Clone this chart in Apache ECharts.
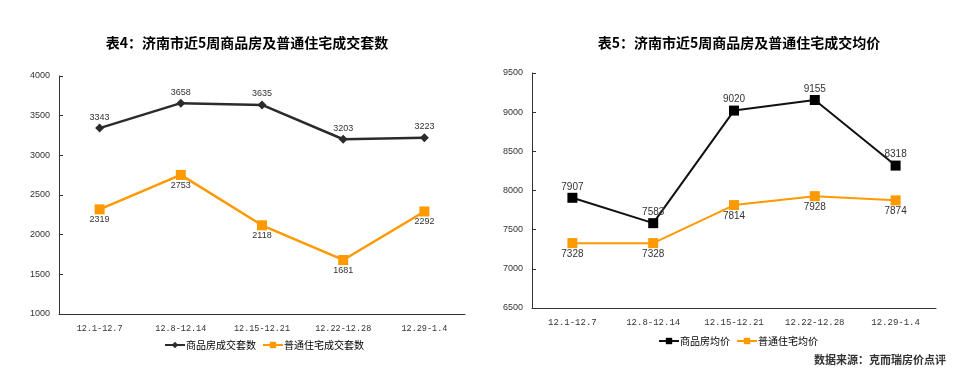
<!DOCTYPE html>
<html><head><meta charset="utf-8">
<script src="https://cdn.jsdelivr.net/npm/echarts@6/dist/echarts.min.js"></script>
<style>html,body{margin:0;padding:0;background:#fff}#c{width:978px;height:369px}</style>
</head><body><div id="c"></div>
<script>
var categories = ['12.1-12.7','12.8-12.14','12.15-12.21','12.22-12.28','12.29-1.4'];
var countCommercial = [3343, 3658, 3635, 3203, 3223];
var countOrdinary = [2319, 2753, 2118, 1681, 2292];
var priceCommercial = [7907, 7583, 9020, 9155, 8318];
var priceOrdinary = [7328, 7328, 7814, 7928, 7874];
var leftTitle = '表4：济南市近5周商品房及普通住宅成交套数';
var rightTitle = '表5：济南市近5周商品房及普通住宅成交均价';
var leftNames = ['商品房成交套数','普通住宅成交套数'];
var rightNames = ['商品房均价','普通住宅均价'];

var cjk = '"Noto Sans CJK SC", sans-serif';
var chart = echarts.init(document.getElementById('c'));
var axisLine = {lineStyle:{color:'#333', width:1}};
function xAxis(gi, fs){
  return {type:'category', gridIndex:gi, data:categories, boundaryGap:true,
    axisLine:axisLine, axisTick:{inside:true, length:4, lineStyle:{color:'#333'}},
    axisLabel:{interval:0, color:'#333', fontSize:fs, margin:10, fontFamily:'"Liberation Mono", "DejaVu Sans Mono", monospace'}};
}
function yAxis(gi, min, max){
  return {type:'value', gridIndex:gi, min:min, max:max, interval:500,
    axisLine:{show:true, lineStyle:{color:'#333'}}, axisTick:{show:true, inside:true, length:4, lineStyle:{color:'#333'}},
    splitLine:{show:false},
    axisLabel:{color:'#333', fontSize:9, margin:9, fontFamily:'Arial, sans-serif', formatter:function(v){return String(v);}}};
}
function lbl(pos, fs, d){ return {show:true, position:pos, distance:d, color:'#333', fontSize:fs, fontFamily:'Arial, sans-serif'}; }
chart.setOption({
  animation:false,
  title:[
    {text:leftTitle, left:242, top:31, textAlign:'center', textStyle:{fontSize:14, fontWeight:'bold', color:'#000', fontFamily:cjk}},
    {text:rightTitle, left:734, top:31, textAlign:'center', textStyle:{fontSize:14, fontWeight:'bold', color:'#000', fontFamily:cjk}},
    {text:'{b|数据来源：}{n|克而瑞房价点评}', right:27, top:349, textStyle:{rich:{
      b:{fontSize:11, fontWeight:'bold', color:'#333', fontFamily:cjk},
      n:{fontSize:11, color:'#333', fontFamily:cjk}}}}
  ],
  legend:[
    {data:leftNames, left:159, top:335, orient:'horizontal', itemWidth:20, itemHeight:8, itemGap:6,
      textStyle:{fontSize:10, color:'#000', fontFamily:cjk, padding:[0,0,0,-4]}, selectedMode:false},
    {data:rightNames, left:653, top:331, orient:'horizontal', itemWidth:20, itemHeight:8, itemGap:6,
      textStyle:{fontSize:10, color:'#000', fontFamily:cjk, padding:[0,0,0,-4]}, selectedMode:false}
  ],
  grid:[
    {left:59, right:513, top:76, bottom:55},
    {left:532, right:42, top:73, bottom:61}
  ],
  xAxis:[xAxis(0, 8.5), xAxis(1, 9)],
  yAxis:[yAxis(0,1000,4000), yAxis(1,6500,9500)],
  series:[
    {name:leftNames[0], type:'line', xAxisIndex:0, yAxisIndex:0, data:countCommercial,
      symbol:'diamond', symbolSize:9, lineStyle:{color:'#2b2b2b', width:2.5}, itemStyle:{color:'#2b2b2b'}, label:lbl('top', 9, 2)},
    {name:leftNames[1], type:'line', xAxisIndex:0, yAxisIndex:0, data:countOrdinary,
      symbol:'rect', symbolSize:10, lineStyle:{color:'#FF9900', width:2.5}, itemStyle:{color:'#FF9900'}, label:lbl('bottom', 9, 1)},
    {name:rightNames[0], type:'line', xAxisIndex:1, yAxisIndex:1, data:priceCommercial,
      symbol:'rect', symbolSize:10, lineStyle:{color:'#111', width:2}, itemStyle:{color:'#000'}, label:lbl('top', 10, 1)},
    {name:rightNames[1], type:'line', xAxisIndex:1, yAxisIndex:1, data:priceOrdinary,
      symbol:'rect', symbolSize:10, lineStyle:{color:'#FF9900', width:2}, itemStyle:{color:'#FF9900'}, label:lbl('bottom', 10, 1)}
  ]
});
</script></body></html>
